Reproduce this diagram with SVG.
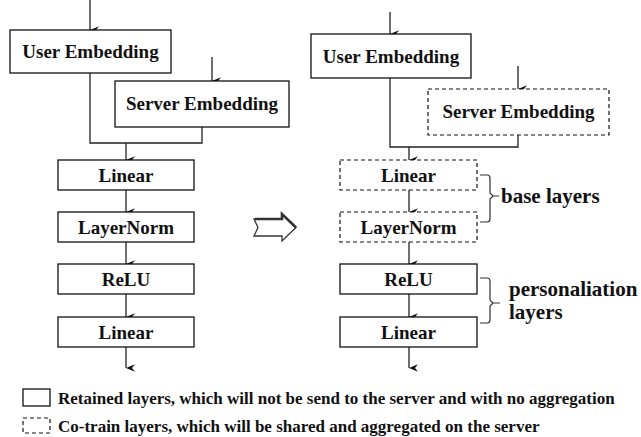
<svg xmlns="http://www.w3.org/2000/svg" width="641" height="437" viewBox="0 0 641 437">
<defs>
<marker id="ah" markerWidth="8" markerHeight="10" refX="4" refY="9.5" orient="auto-start-reverse" markerUnits="userSpaceOnUse" viewBox="0 0 8 10">
<path d="M0.3,0.5 L4,9.5 L7.7,0.5 L4,3.5 Z" fill="#111"/>
</marker>
<style>
.box{fill:#fff;stroke:#111;stroke-width:1.3}
.dash{fill:#fff;stroke:#111;stroke-width:1.2;stroke-dasharray:4 3}
.t{font-family:"Liberation Serif","Times New Roman",serif;font-weight:bold;font-size:19px;fill:#111;text-anchor:middle}
.lab{font-family:"Liberation Serif","Times New Roman",serif;font-weight:bold;font-size:21px;fill:#111}
.leg{font-family:"Liberation Serif","Times New Roman",serif;font-weight:bold;font-size:17px;fill:#111}
.c{fill:none;stroke:#222;stroke-width:1.3}
.ca{fill:none;stroke:#222;stroke-width:1.3;marker-end:url(#ah)}
.br{fill:none;stroke:#333;stroke-width:1.2}
</style>
</defs>
<rect width="641" height="437" fill="#fff"/>

<g id="connectors">
<line class="ca" x1="90" y1="0" x2="90" y2="30"/>
<line class="ca" x1="212" y1="57" x2="212" y2="81"/>
<polyline class="c" points="90,73 90,143 202,143 202,127"/>
<line class="ca" x1="126" y1="143" x2="126" y2="160"/>
<line class="ca" x1="126" y1="190" x2="126" y2="212"/>
<line class="ca" x1="126" y1="242" x2="126" y2="264"/>
<line class="ca" x1="126" y1="294" x2="126" y2="317"/>
<line class="ca" x1="126" y1="347" x2="126" y2="368"/>
<line class="ca" x1="390" y1="12" x2="390" y2="34"/>
<line class="ca" x1="518" y1="66" x2="518" y2="89"/>
<polyline class="c" points="390,78 390,147 518,147 518,135"/>
<line class="ca" x1="409" y1="147" x2="409" y2="160"/>
<line class="ca" x1="409" y1="190" x2="409" y2="212"/>
<line class="ca" x1="409" y1="242" x2="409" y2="264"/>
<line class="ca" x1="409" y1="294" x2="409" y2="317"/>
<line class="ca" x1="409" y1="347" x2="409" y2="368"/>
</g>

<g id="l-user"><rect class="box" x="10" y="30" width="161" height="43"/><text class="t" x="90.5" y="58">User Embedding</text></g>
<g id="l-server"><rect class="box" x="115" y="81" width="174" height="46"/><text class="t" x="202" y="110">Server Embedding</text></g>
<g id="l-linear1"><rect class="box" x="58" y="160" width="136" height="30"/><text class="t" x="126" y="181.5">Linear</text></g>
<g id="l-layernorm"><rect class="box" x="58" y="212" width="136" height="30"/><text class="t" x="126" y="233.5">LayerNorm</text></g>
<g id="l-relu"><rect class="box" x="58" y="264" width="136" height="30"/><text class="t" x="126" y="285.5">ReLU</text></g>
<g id="l-linear2"><rect class="box" x="58" y="317" width="136" height="30"/><text class="t" x="126" y="338.5">Linear</text></g>

<g id="transform-arrow">
<polygon points="254,219 282,219 282,214 296,227.5 282,241 282,236 254,236 258,227.5" fill="#fff" stroke="#333" stroke-width="1.3" stroke-linejoin="miter"/>
<polyline points="255,219 282,219 282,214 296,227.5" fill="none" stroke="#333" stroke-width="2.6"/>
</g>

<g id="r-user"><rect class="box" x="311" y="34" width="160" height="44"/><text class="t" x="391" y="62.5">User Embedding</text></g>
<g id="r-server"><rect class="dash" x="428" y="89" width="181" height="46"/><text class="t" x="518.5" y="118">Server Embedding</text></g>
<g id="r-linear1"><rect class="dash" x="340" y="160" width="137" height="30"/><text class="t" x="408.5" y="181.5">Linear</text></g>
<g id="r-layernorm"><rect class="dash" x="340" y="212" width="137" height="30"/><text class="t" x="408.5" y="233.5">LayerNorm</text></g>
<g id="r-relu"><rect class="box" x="340" y="264" width="137" height="30"/><text class="t" x="408.5" y="285.5">ReLU</text></g>
<g id="r-linear2"><rect class="box" x="340" y="317" width="137" height="30"/><text class="t" x="408.5" y="338.5">Linear</text></g>

<g id="base-brace">
<path class="br" d="M480,175 H487 Q490,175 490,178 V193 L493,196 H499 M493,196 L490,199 V219 Q490,222 487,222 H480"/>
<text class="lab" x="501" y="203">base layers</text>
</g>
<g id="pers-brace">
<path class="br" d="M480,278 H487 Q490,278 490,281 V300 L493,303 H500 M493,303 L490,306 V320 Q490,323 487,323 H480"/>
<text class="lab" x="509" y="296">personaliation</text>
<text class="lab" x="509" y="319">layers</text>
</g>

<g id="legend">
<rect class="box" x="23" y="389" width="27" height="17"/>
<text class="leg" x="58" y="404">Retained layers, which will not be send to the server and with no aggregation</text>
<rect class="dash" x="23" y="418" width="27" height="15"/>
<text class="leg" x="58" y="432">Co-train layers, which will be shared and aggregated on the server</text>
</g>
</svg>
